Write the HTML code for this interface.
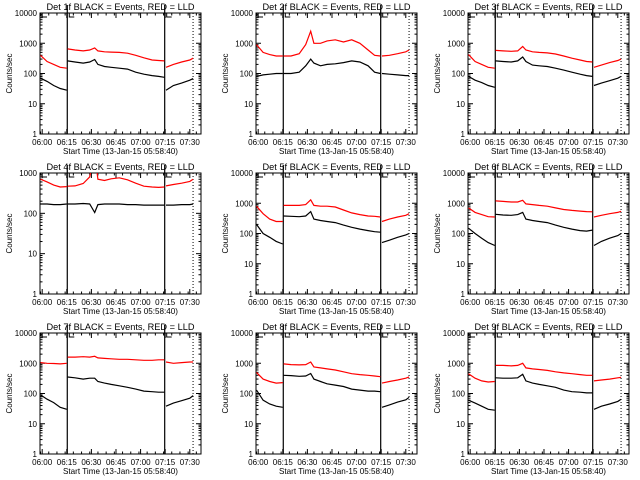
<!DOCTYPE html>
<html><head><meta charset="utf-8">
<style>
html,body{margin:0;padding:0;background:#fff;}
svg{display:block;}
text{font-family:"Liberation Sans",sans-serif;fill:#000;}
</style></head>
<body>
<svg id="chart" width="640" height="480" viewBox="0 0 640 480" xmlns="http://www.w3.org/2000/svg">
<rect width="640" height="480" fill="#fff"/>
</svg>
<script>
// time samples (minutes after 06:00) for the three segments
const seg1T = [-1, 3, 7, 11, 15];
const seg2T = [15.5, 20, 25, 29, 32, 34, 38, 42, 47, 52, 57, 62, 67, 71, 74.5];
const seg3T = [75.5, 80, 85, 90, 92];
const xTickLabels = ["06:00","06:15","06:30","06:45","07:00","07:15","07:30"];
const xTickMinutes = [0,15,30,45,60,75,90];
const detNames = ["1f","2f","3f","4f","5f","6f","7f","8f","9f"];
const yMaxDecade = [4,4,4,3,4,4,4,4,4];
// red (LLD) per detector: [seg1, seg2, seg3]
const red1 = [[400,250,200,160,150],[650,600,560,600,700,560,520,510,500,470,400,330,280,270,260],[160,200,240,280,320]];
const red2 = [[900,500,420,380,380],[380,380,450,900,2500,1000,1000,1200,1300,1100,1300,1000,600,400,380],[380,400,450,520,600]];
const red3 = [[420,250,200,160,150],[580,560,540,560,780,600,520,500,480,440,380,320,280,250,240],[160,190,230,270,300]];
const red4 = [[700,600,500,450,460],[470,480,550,800,3000,700,650,720,760,680,560,470,450,440,450],[480,520,560,620,700]];
const red5 = [[800,450,300,250,250],[850,850,850,900,1300,850,800,800,750,600,480,420,380,370,350],[250,300,350,400,450]];
const red6 = [[700,500,420,360,350],[1200,1150,1100,1100,1250,950,900,850,800,700,620,580,550,530,520],[350,400,450,500,540]];
const red7 = [[1050,1000,980,950,1000],[1600,1600,1650,1600,1700,1500,1450,1400,1350,1350,1300,1250,1250,1300,1300],[1100,1000,1050,1100,1100]];
const red8 = [[500,300,250,220,230],[950,900,880,900,1100,750,700,650,600,520,450,420,400,380,360],[220,250,280,320,350]];
const red9 = [[450,320,260,240,250],[850,850,820,850,1000,700,650,620,580,520,480,450,420,400,400],[260,280,300,330,340]];
// black (events)
const blk1 = [[70,55,40,32,28],[260,240,220,240,290,200,170,160,150,140,110,95,85,80,75],[28,40,48,60,68]];
const blk2 = [[80,90,95,100,100],[100,100,110,180,300,220,180,200,210,230,260,240,180,110,100],[100,95,90,85,85]];
const blk3 = [[80,60,50,40,35],[260,250,240,260,350,250,190,180,170,150,130,110,95,85,80],[40,48,58,70,80]];
const blk4 = [[170,170,165,165,170],[170,170,175,170,105,165,170,170,170,165,165,160,160,160,160],[160,160,165,165,170]];
const blk5 = [[200,100,75,55,45],[380,370,360,380,530,300,270,250,230,190,160,140,125,115,110],[50,60,75,90,100]];
const blk6 = [[150,100,70,50,40],[430,410,400,420,500,300,270,250,230,190,160,140,125,120,130],[40,55,70,85,100]];
const blk7 = [[90,65,50,35,30],[350,330,300,320,320,250,220,200,180,160,140,120,115,110,110],[38,48,58,70,85]];
const blk8 = [[130,60,45,38,35],[400,390,370,380,460,300,250,210,190,170,140,130,120,120,115],[35,42,52,62,75]];
const blk9 = [[60,48,38,30,28],[330,320,320,330,430,260,220,200,180,160,130,115,110,105,105],[30,38,45,55,65]];
const redAll = [red1,red2,red3,red4,red5,red6,red7,red8,red9];
const blkAll = [blk1,blk2,blk3,blk4,blk5,blk6,blk7,blk8,blk9];
const lineTimes = [15.3, 74.7];
const dottedTime = 92;

const NS = "http://www.w3.org/2000/svg";
const svg = document.getElementById("chart");
const colLeft = [40, 256, 468], rowTop = [13, 173, 333], W = 161, H = 121;
function mk(tag, attrs, parent) {
  const e = document.createElementNS(NS, tag);
  for (const k in attrs) e.setAttribute(k, attrs[k]);
  (parent || svg).appendChild(e);
  return e;
}
for (let p = 0; p < 9; p++) {
  const L = colLeft[p % 3], T = rowTop[Math.floor(p / 3)], B = T + H;
  const dec = yMaxDecade[p];
  const xs = t => L + (t + 1.333) * 1.64;
  const ys = v => B - Math.log10(Math.max(v, 0.1)) / dec * H;
  const g = mk("g", {});
  
  
  const cp = mk("clipPath", {id: "cp" + p}, g);
  mk("rect", {x: L, y: T, width: W, height: H}, cp);
  const title = mk("text", {x: L + W / 2, y: T - 3, "font-size": 9.5, "text-anchor": "middle", textLength: 148, lengthAdjust: "spacingAndGlyphs"}, g);
  title.textContent = "Det " + detNames[p] + " BLACK = Events, RED = LLD";
  
  
  const box = mk("rect", {x: L, y: T, width: W, height: H, fill: "none", stroke: "#000", "stroke-width": 1}, g);
  
  
  for (let d = 0; d <= dec; d++) {
    const y = ys(Math.pow(10, d));
    mk("line", {x1: L, x2: L + 5, y1: y, y2: y, stroke: "#000"}, g);
    mk("line", {x1: L + W - 5, x2: L + W, y1: y, y2: y, stroke: "#000"}, g);
    const tl = mk("text", {x: L - 3, y: y + 3, "font-size": 8, "text-anchor": "end"}, g);
    tl.textContent = String(Math.pow(10, d));
    
    
    if (d < dec) for (let m = 2; m < 10; m++) {
      const ym = ys(m * Math.pow(10, d));
      mk("line", {x1: L, x2: L + 2.5, y1: ym, y2: ym, stroke: "#000"}, g);
      mk("line", {x1: L + W - 2.5, x2: L + W, y1: ym, y2: ym, stroke: "#000"}, g);
    }
  }
  for (let i = 0; i < xTickMinutes.length; i++) {
    const x = xs(xTickMinutes[i]);
    mk("line", {x1: x, x2: x, y1: B, y2: B - 5, stroke: "#000"}, g);
    mk("line", {x1: x, x2: x, y1: T, y2: T + 5, stroke: "#000"}, g);
    const tl = mk("text", {x: x, y: B + 11, "font-size": 8, "text-anchor": "middle"}, g);
    tl.textContent = xTickLabels[i];
    
    
  }
  for (let m = -1; m <= 95; m += 5) {
    if (m % 15 === 0) continue;
    const x = xs(m);
    if (x < L || x > L + W) continue;
    mk("line", {x1: x, x2: x, y1: B, y2: B - 2.5, stroke: "#000"}, g);
    mk("line", {x1: x, x2: x, y1: T, y2: T + 2.5, stroke: "#000"}, g);
  }
  const xt = mk("text", {x: L + W / 2, y: B + 20, "font-size": 8.5, "text-anchor": "middle", textLength: 115, lengthAdjust: "spacingAndGlyphs"}, g);
  xt.textContent = "Start Time (13-Jan-15 05:58:40)";
  
  
  const yt = mk("text", {x: 0, y: 0, "font-size": 8, "text-anchor": "middle", transform: "translate(" + (L - 28) + "," + (T + H / 2) + ") rotate(-90)"}, g);
  yt.textContent = "Counts/sec";
  
  
  lineTimes.forEach(t => {
    const x = xs(t);
    const vl = mk("line", {x1: x, x2: x, y1: T - 8, y2: B, stroke: "#000", "stroke-width": 1.2}, g);
    
    
    mk("polyline", {points: (x + 2) + "," + T + " " + (x + 2) + "," + (T + 4) + " " + (x + 7) + "," + (T + 4), fill: "none", stroke: "#000"}, g);
  });
  mk("polyline", {points: (L + 2) + "," + T + " " + (L + 2) + "," + (T + 4) + " " + (L + 7) + "," + (T + 4), fill: "none", stroke: "#000"}, g);
  const dl = mk("line", {x1: xs(dottedTime), x2: xs(dottedTime), y1: T, y2: B, stroke: "#000", "stroke-dasharray": "1,2"}, g);
  
  
  const segs = [seg1T, seg2T, seg3T];
  [[redAll[p], "#ff0000", "red-lld-series"], [blkAll[p], "#000", "black-events-series"]].forEach(([ser, col, nm]) => {
    ser.forEach((vals, si) => {
      const pts = segs[si].map((t, i) => xs(t).toFixed(1) + "," + ys(vals[i]).toFixed(1)).join(" ");
      const pl = mk("polyline", {points: pts, fill: "none", stroke: col, "stroke-width": 1.2, "clip-path": "url(#cp" + p + ")"}, g);
      
      
    });
  });
}
</script>
</body></html>
